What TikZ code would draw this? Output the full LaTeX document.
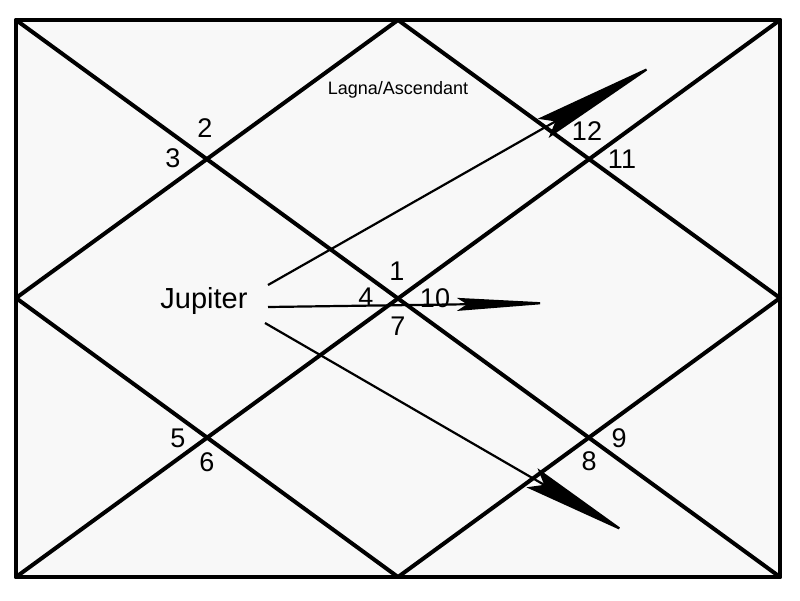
\documentclass[tikz,border=0pt]{standalone}
\usepackage{fontspec}
\setmainfont{Liberation Sans}
\usetikzlibrary{arrows.meta}
\definecolor{panel}{HTML}{F8F8F8}
\tikzset{
  grid/.style={line width=4pt, line cap=round, line join=round},
  num/.style={font=\fontsize{27}{27}\selectfont, inner sep=0pt},
  ptr/.style={line width=2.2pt},
}
\begin{document}
\begin{tikzpicture}[x=1pt,y=-1pt]
\useasboundingbox (0,0) rectangle (800,600);
% frame coordinates
\coordinate (tl) at (16,20);
\coordinate (tr) at (780,20);
\coordinate (br) at (780,577);
\coordinate (bl) at (16,577);
\coordinate (mt) at (398,20);
\coordinate (mr) at (780,298);
\coordinate (mb) at (398,577);
\coordinate (ml) at (16,298);
\fill[panel] (tl) rectangle (br);
\draw[grid] (tl) -- (tr) -- (br) -- (bl) -- cycle;
\draw[grid] (tl) -- (br);
\draw[grid] (tr) -- (bl);
\draw[grid] (mt) -- (mr) -- (mb) -- (ml) -- cycle;
% labels
\node[font=\fontsize{18}{18}\selectfont] (lagna) at (398,90) {Lagna/Ascendant};
\node[font=\fontsize{29}{29}\selectfont] (jup) at (204,301) {Jupiter};
\node[num] (n1) at (397,271) {1};
\node[num] (n2) at (205,128) {2};
\node[num] (n3) at (173,158) {3};
\node[num] (n4) at (366,297) {4};
\node[num] (n5) at (178,438) {5};
\node[num] (n6) at (207,462) {6};
\node[num] (n7) at (398,326) {7};
\node[num] (n8) at (589,461) {8};
\node[num] (n9) at (619,438) {9};
\node[num] (n10) at (435,298) {10};
\node[num] (n11) at (622,159) {11};
\node[num] (n12) at (587,131) {12};
% arrows
\coordinate (a1s) at (268,285);
\coordinate (a1e) at (658,63);
\coordinate (a2s) at (268,307);
\coordinate (a2e) at (557,303);
\coordinate (a3s) at (265,323);
\coordinate (a3e) at (629,534);
\draw[ptr, -{Stealth[length=132pt, width=22pt, inset=14pt]}] (a1s) -- (a1e);
\draw[ptr, -{Stealth[length=100pt, width=13pt, inset=10pt]}] (a2s) -- (a2e);
\draw[ptr, -{Stealth[length=112pt, width=22pt, inset=14pt]}] (a3s) -- (a3e);
\end{tikzpicture}
\end{document}
